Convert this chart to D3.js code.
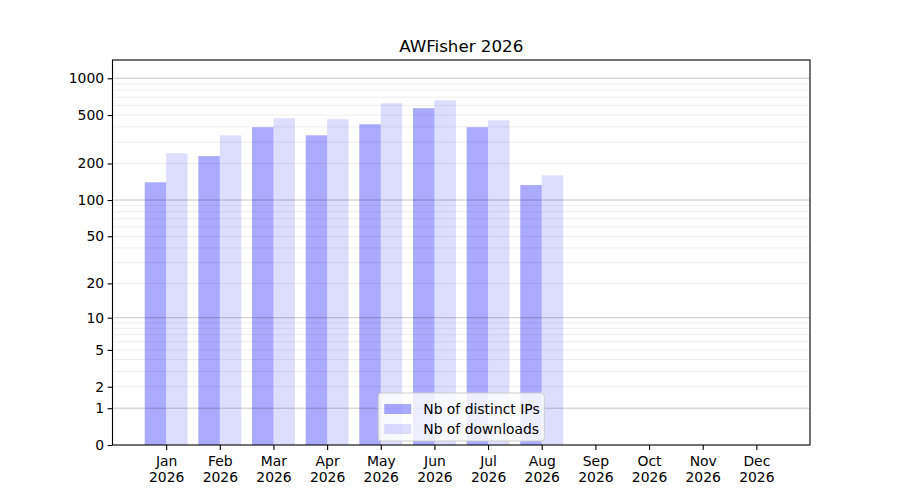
<!DOCTYPE html>
<html>
<head>
<meta charset="utf-8">
<script src="https://cdn.jsdelivr.net/npm/d3@7"></script>
<style>
  body { margin: 0; background: #fff; }
  text { font-family: "DejaVu Sans", sans-serif; }
</style>
</head>
<body>
<svg id="chart"></svg>
<script>
// data
const months = ['Jan', 'Feb', 'Mar', 'Apr', 'May', 'Jun', 'Jul', 'Aug', 'Sep', 'Oct', 'Nov', 'Dec'];
const year = '2026';
const distinctIPs = [140, 230, 397, 341, 420, 569, 397, 133, 0, 0, 0, 0];
const downloads = [243, 341, 471, 462, 625, 661, 453, 160, 0, 0, 0, 0];
const yTicks = [0, 1, 2, 5, 10, 20, 50, 100, 200, 500, 1000];
const majorGrid = [1, 10, 100, 1000];
const minorGrid = [2, 3, 4, 5, 6, 7, 8, 9, 20, 30, 40, 50, 60, 70, 80, 90, 200, 300, 400, 500, 600, 700, 800, 900];
const seriesNames = ['Nb of distinct IPs', 'Nb of downloads'];

const width = 900, height = 500;
const margin = { top: 60, right: 90, bottom: 55, left: 112.5 };
const plotW = width - margin.left - margin.right;
const plotH = height - margin.top - margin.bottom;

const svg = d3.select('#chart').attr('width', width).attr('height', height);
const g = svg.append('g').attr('transform', `translate(${margin.left},${margin.top})`);

// x in month index units, y symlog (log(1+x))
const x = d3.scaleLinear().domain([-1, 12]).range([0, plotW]);
const y = d3.scaleSymlog().constant(1).domain([0, 1412]).range([plotH, 0]);
const barW = x(0.4) - x(0);

// bars
g.selectAll('.ip')
    .data(distinctIPs)
    .enter().append('rect')
    .attr('class', 'ip')
    .attr('x', (d, i) => x(i - 0.4))
    .attr('y', d => y(d))
    .attr('width', barW)
    .attr('height', d => plotH - y(d))
    .style('fill', 'blue')
    .style('opacity', 0.333);

g.selectAll('.dl')
    .data(downloads)
    .enter().append('rect')
    .attr('class', 'dl')
    .attr('x', (d, i) => x(i))
    .attr('y', d => y(d))
    .attr('width', barW)
    .attr('height', d => plotH - y(d))
    .style('fill', 'blue')
    .style('opacity', 0.133);

// grid on top of bars
g.selectAll('.minor')
    .data(minorGrid)
    .enter().append('line')
    .attr('class', 'minor')
    .attr('x1', 0).attr('x2', plotW)
    .attr('y1', d => y(d)).attr('y2', d => y(d))
    .style('stroke', '#000').style('stroke-opacity', 0.07).style('stroke-width', 1);

g.selectAll('.major')
    .data(majorGrid)
    .enter().append('line')
    .attr('class', 'major')
    .attr('x1', 0).attr('x2', plotW)
    .attr('y1', d => y(d)).attr('y2', d => y(d))
    .style('stroke', '#000').style('stroke-opacity', 0.22).style('stroke-width', 1);

// axes
const yAxis = d3.axisLeft(y).tickValues(yTicks).tickFormat(d3.format('d')).tickSizeOuter(0).tickSize(4.9).tickPadding(3.5);
const yG = g.append('g').call(yAxis);

const xAxis = d3.axisBottom(x).tickValues(d3.range(12)).tickFormat('').tickSizeOuter(0).tickSize(4.9);
const xG = g.append('g').attr('transform', `translate(0,${plotH})`).call(xAxis);

[yG, xG].forEach(a => {
    a.selectAll('.domain').remove();
    a.selectAll('line').style('stroke', '#000').style('stroke-width', 1.1);
    a.selectAll('text').style('font-size', '13.9px').style('fill', '#000')
        .style('font-family', '"DejaVu Sans", sans-serif');
});

xG.selectAll('.tick').each(function (d) {
    const t = d3.select(this).select('text').attr('y', 0).attr('dy', null);
    t.append('tspan').attr('x', 0).attr('y', 21).text(months[d]);
    t.append('tspan').attr('x', 0).attr('y', 37).text(year);
});

// frame
g.append('rect')
    .attr('width', plotW).attr('height', plotH)
    .style('fill', 'none').style('stroke', '#000').style('stroke-width', 1.1);

// title
svg.append('text')
    .attr('x', margin.left + plotW / 2)
    .attr('y', 52)
    .attr('text-anchor', 'middle')
    .style('font-size', '16.7px')
    .text('AWFisher 2026');

// legend, lower center
const legW = 166, legH = 48;
const leg = g.append('g').attr('transform', `translate(${plotW / 2 - legW / 2},${plotH - 4 - legH})`);
leg.append('rect')
    .attr('width', legW).attr('height', legH).attr('rx', 3)
    .style('fill', '#fff').style('fill-opacity', 0.8)
    .style('stroke', '#ccc').style('stroke-width', 1);

const legItems = leg.selectAll('.item')
    .data(seriesNames)
    .enter().append('g')
    .attr('class', 'item')
    .attr('transform', (d, i) => `translate(6,${11 + i * 20})`);

legItems.append('rect')
    .attr('width', 27).attr('height', 10)
    .style('fill', 'blue')
    .style('opacity', (d, i) => i === 0 ? 0.333 : 0.133);

legItems.append('text')
    .attr('x', 39).attr('y', 10)
    .style('font-size', '13.9px')
    .text(d => d);
</script>
</body>
</html>
